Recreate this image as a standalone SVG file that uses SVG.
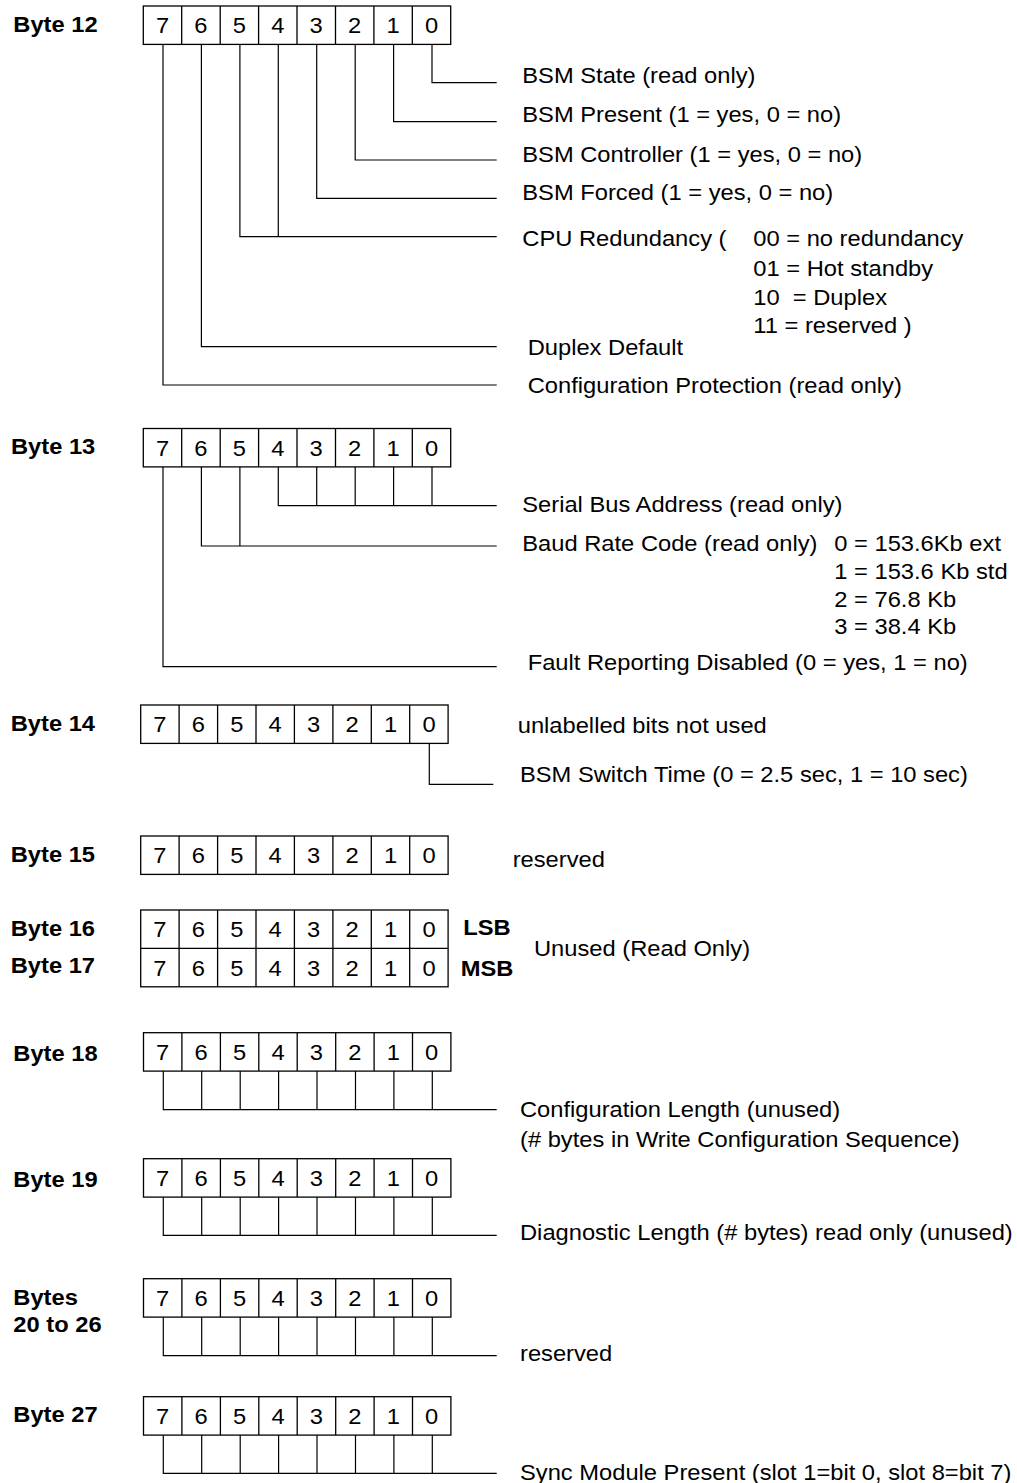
<svg xmlns="http://www.w3.org/2000/svg" width="1017" height="1483" viewBox="0 0 1017 1483">
<style>
text{font-family:"Liberation Sans",Arial,sans-serif;font-size:22px;fill:#000;white-space:pre}
.t{transform-box:fill-box;transform-origin:0 100%;transform:scaleX(1.078)}
.b{font-weight:bold}
.d{text-anchor:middle;transform-box:fill-box;transform-origin:50% 50%;transform:scaleX(1.078)}
.box{fill:none;stroke:#000;stroke-width:1.3}
.cn{fill:none;stroke:#000;stroke-width:1.2}
</style>
<rect width="1017" height="1483" fill="#fff"/>

<g id="byte12">
<text class="t b" x="13.3" y="31.7">Byte 12</text>
<rect class="box" x="143.3" y="6" width="307.4" height="38.4"/>
<path class="box" d="M181.7 6V44.4M220.2 6V44.4M258.6 6V44.4M297 6V44.4M335.5 6V44.4M373.9 6V44.4M412.3 6V44.4"/>
<text class="d" x="162.5" y="33.3">7</text><text class="d" x="200.9" y="33.3">6</text><text class="d" x="239.4" y="33.3">5</text><text class="d" x="277.8" y="33.3">4</text><text class="d" x="316.2" y="33.3">3</text><text class="d" x="354.7" y="33.3">2</text><text class="d" x="393.1" y="33.3">1</text><text class="d" x="431.5" y="33.3">0</text>
<text class="t" x="522.3" y="83">BSM State (read only)</text>
<text class="t" x="522.3" y="122.3">BSM Present (1 = yes, 0 = no)</text>
<text class="t" x="522.3" y="161.7">BSM Controller (1 = yes, 0 = no)</text>
<text class="t" x="522.3" y="200">BSM Forced (1 = yes, 0 = no)</text>
<text class="t" x="522.3" y="246.5">CPU Redundancy (</text>
<text class="t" x="753.3" y="246.5">00 = no redundancy</text>
<text class="t" x="753.3" y="276">01 = Hot standby</text>
<text class="t" x="753.3" y="305">10  = Duplex</text>
<text class="t" x="753.3" y="333.5">11 = reserved )</text>
<text class="t" x="527.7" y="355">Duplex Default</text>
<text class="t" x="527.7" y="393.3">Configuration Protection (read only)</text>
</g>

<g id="byte13">
<text class="t b" x="11" y="454">Byte 13</text>
<rect class="box" x="143.3" y="428.5" width="307.4" height="38.4"/>
<path class="box" d="M181.7 428.5V466.9M220.2 428.5V466.9M258.6 428.5V466.9M297 428.5V466.9M335.5 428.5V466.9M373.9 428.5V466.9M412.3 428.5V466.9"/>
<text class="d" x="162.5" y="455.8">7</text><text class="d" x="200.9" y="455.8">6</text><text class="d" x="239.4" y="455.8">5</text><text class="d" x="277.8" y="455.8">4</text><text class="d" x="316.2" y="455.8">3</text><text class="d" x="354.7" y="455.8">2</text><text class="d" x="393.1" y="455.8">1</text><text class="d" x="431.5" y="455.8">0</text>
<text class="t" x="522.3" y="511.7">Serial Bus Address (read only)</text>
<text class="t" x="522.3" y="550.7">Baud Rate Code (read only)</text>
<text class="t" x="834.3" y="550.7">0 = 153.6Kb ext</text>
<text class="t" x="834.3" y="579.3">1 = 153.6 Kb std</text>
<text class="t" x="834.3" y="606.7">2 = 76.8 Kb</text>
<text class="t" x="834.3" y="634">3 = 38.4 Kb</text>
<text class="t" x="527.7" y="670">Fault Reporting Disabled (0 = yes, 1 = no)</text>
</g>

<g id="byte14">
<text class="t b" x="10.7" y="730.7">Byte 14</text>
<rect class="box" x="140.7" y="705" width="307.4" height="38.4"/>
<path class="box" d="M179.1 705V743.4M217.6 705V743.4M256 705V743.4M294.4 705V743.4M332.9 705V743.4M371.3 705V743.4M409.7 705V743.4"/>
<text class="d" x="159.9" y="732.3">7</text><text class="d" x="198.4" y="732.3">6</text><text class="d" x="236.8" y="732.3">5</text><text class="d" x="275.2" y="732.3">4</text><text class="d" x="313.7" y="732.3">3</text><text class="d" x="352.1" y="732.3">2</text><text class="d" x="390.5" y="732.3">1</text><text class="d" x="429" y="732.3">0</text>
<text class="t" x="517.7" y="733.3">unlabelled bits not used</text>
<text class="t" x="520" y="781.7">BSM Switch Time (0 = 2.5 sec, 1 = 10 sec)</text>
</g>

<g id="byte15">
<text class="t b" x="10.7" y="862.3">Byte 15</text>
<rect class="box" x="140.7" y="836" width="307.4" height="38.4"/>
<path class="box" d="M179.1 836V874.4M217.6 836V874.4M256 836V874.4M294.4 836V874.4M332.9 836V874.4M371.3 836V874.4M409.7 836V874.4"/>
<text class="d" x="159.9" y="863.3">7</text><text class="d" x="198.4" y="863.3">6</text><text class="d" x="236.8" y="863.3">5</text><text class="d" x="275.2" y="863.3">4</text><text class="d" x="313.7" y="863.3">3</text><text class="d" x="352.1" y="863.3">2</text><text class="d" x="390.5" y="863.3">1</text><text class="d" x="429" y="863.3">0</text>
<text class="t" x="512.7" y="866.7">reserved</text>
</g>

<g id="byte16-17">
<text class="t b" x="10.7" y="935.7">Byte 16</text>
<text class="t b" x="10.7" y="973.3">Byte 17</text>
<rect class="box" x="140.7" y="910" width="307.4" height="76.8"/>
<path class="box" d="M140.7 948.4H448.1M179.1 910V986.8M217.6 910V986.8M256 910V986.8M294.4 910V986.8M332.9 910V986.8M371.3 910V986.8M409.7 910V986.8"/>
<text class="d" x="159.9" y="937.3">7</text><text class="d" x="198.4" y="937.3">6</text><text class="d" x="236.8" y="937.3">5</text><text class="d" x="275.2" y="937.3">4</text><text class="d" x="313.7" y="937.3">3</text><text class="d" x="352.1" y="937.3">2</text><text class="d" x="390.5" y="937.3">1</text><text class="d" x="429" y="937.3">0</text>
<text class="d" x="159.9" y="975.7">7</text><text class="d" x="198.4" y="975.7">6</text><text class="d" x="236.8" y="975.7">5</text><text class="d" x="275.2" y="975.7">4</text><text class="d" x="313.7" y="975.7">3</text><text class="d" x="352.1" y="975.7">2</text><text class="d" x="390.5" y="975.7">1</text><text class="d" x="429" y="975.7">0</text>
<text class="t b" x="463.3" y="935">LSB</text>
<text class="t b" x="460.7" y="975.7">MSB</text>
<text class="t" x="534" y="956">Unused (Read Only)</text>
</g>

<g id="byte18">
<text class="t b" x="13.3" y="1060.7">Byte 18</text>
<rect class="box" x="143.5" y="1032.7" width="307.4" height="38.4"/>
<path class="box" d="M181.9 1032.7V1071.1M220.4 1032.7V1071.1M258.8 1032.7V1071.1M297.2 1032.7V1071.1M335.7 1032.7V1071.1M374.1 1032.7V1071.1M412.5 1032.7V1071.1"/>
<text class="d" x="162.7" y="1060">7</text><text class="d" x="201.1" y="1060">6</text><text class="d" x="239.6" y="1060">5</text><text class="d" x="278" y="1060">4</text><text class="d" x="316.4" y="1060">3</text><text class="d" x="354.9" y="1060">2</text><text class="d" x="393.3" y="1060">1</text><text class="d" x="431.7" y="1060">0</text>
<text class="t" x="520" y="1116.7">Configuration Length (unused)</text>
<text class="t" x="520" y="1146.7">(# bytes in Write Configuration Sequence)</text>
</g>

<g id="byte19">
<text class="t b" x="13.3" y="1186.7">Byte 19</text>
<rect class="box" x="143.5" y="1158.7" width="307.4" height="38.4"/>
<path class="box" d="M181.9 1158.7V1197.1M220.4 1158.7V1197.1M258.8 1158.7V1197.1M297.2 1158.7V1197.1M335.7 1158.7V1197.1M374.1 1158.7V1197.1M412.5 1158.7V1197.1"/>
<text class="d" x="162.7" y="1186">7</text><text class="d" x="201.1" y="1186">6</text><text class="d" x="239.6" y="1186">5</text><text class="d" x="278" y="1186">4</text><text class="d" x="316.4" y="1186">3</text><text class="d" x="354.9" y="1186">2</text><text class="d" x="393.3" y="1186">1</text><text class="d" x="431.7" y="1186">0</text>
<text class="t" x="520" y="1240">Diagnostic Length (# bytes) read only (unused)</text>
</g>

<g id="bytes20-26">
<text class="t b" x="13.3" y="1305">Bytes</text>
<text class="t b" x="13.3" y="1332.3">20 to 26</text>
<rect class="box" x="143.5" y="1278.7" width="307.4" height="38.4"/>
<path class="box" d="M181.9 1278.7V1317.1M220.4 1278.7V1317.1M258.8 1278.7V1317.1M297.2 1278.7V1317.1M335.7 1278.7V1317.1M374.1 1278.7V1317.1M412.5 1278.7V1317.1"/>
<text class="d" x="162.7" y="1306">7</text><text class="d" x="201.1" y="1306">6</text><text class="d" x="239.6" y="1306">5</text><text class="d" x="278" y="1306">4</text><text class="d" x="316.4" y="1306">3</text><text class="d" x="354.9" y="1306">2</text><text class="d" x="393.3" y="1306">1</text><text class="d" x="431.7" y="1306">0</text>
<text class="t" x="520" y="1360.7">reserved</text>
</g>

<g id="byte27">
<text class="t b" x="13.3" y="1421.7">Byte 27</text>
<rect class="box" x="143.5" y="1396.7" width="307.4" height="38.4"/>
<path class="box" d="M181.9 1396.7V1435.1M220.4 1396.7V1435.1M258.8 1396.7V1435.1M297.2 1396.7V1435.1M335.7 1396.7V1435.1M374.1 1396.7V1435.1M412.5 1396.7V1435.1"/>
<text class="d" x="162.7" y="1424">7</text><text class="d" x="201.1" y="1424">6</text><text class="d" x="239.6" y="1424">5</text><text class="d" x="278" y="1424">4</text><text class="d" x="316.4" y="1424">3</text><text class="d" x="354.9" y="1424">2</text><text class="d" x="393.3" y="1424">1</text><text class="d" x="431.7" y="1424">0</text>
<text class="t" x="520" y="1480">Sync Module Present (slot 1=bit 0, slot 8=bit 7)</text>
</g>

<g id="connectors">
<path class="cn" d="M432 44.4V82.7H496.7M393.6 44.4V121.7H496.7M355.2 44.4V160H496.7M316.7 44.4V198.3H496.7M239.9 44.4V236.7H496.7M278.3 44.4V236.7M201.4 44.4V346.7H496.7M163 44.4V385H496.7"/>
<path class="cn" d="M278.3 466.9V505.7H496.7M316.7 466.9V505.7M355.2 466.9V505.7M393.6 466.9V505.7M432 466.9V505.7M201.4 466.9V546H496.7M239.9 466.9V546M163 466.9V666.7H496.7"/>
<path class="cn" d="M429.3 743.4V784.3H493.3"/>
<path class="cn" d="M163.3 1071.1V1109.7H496.7M201.7 1071.1V1109.7M240.2 1071.1V1109.7M278.6 1071.1V1109.7M317 1071.1V1109.7M355.5 1071.1V1109.7M393.9 1071.1V1109.7M432.3 1071.1V1109.7"/>
<path class="cn" d="M163.3 1197.1V1235.3H496.7M201.7 1197.1V1235.3M240.2 1197.1V1235.3M278.6 1197.1V1235.3M317 1197.1V1235.3M355.5 1197.1V1235.3M393.9 1197.1V1235.3M432.3 1197.1V1235.3"/>
<path class="cn" d="M163.3 1317.1V1355.7H496.7M201.7 1317.1V1355.7M240.2 1317.1V1355.7M278.6 1317.1V1355.7M317 1317.1V1355.7M355.5 1317.1V1355.7M393.9 1317.1V1355.7M432.3 1317.1V1355.7"/>
<path class="cn" d="M163.3 1435.1V1473.3H496.7M201.7 1435.1V1473.3M240.2 1435.1V1473.3M278.6 1435.1V1473.3M317 1435.1V1473.3M355.5 1435.1V1473.3M393.9 1435.1V1473.3M432.3 1435.1V1473.3"/>
</g>
</svg>
